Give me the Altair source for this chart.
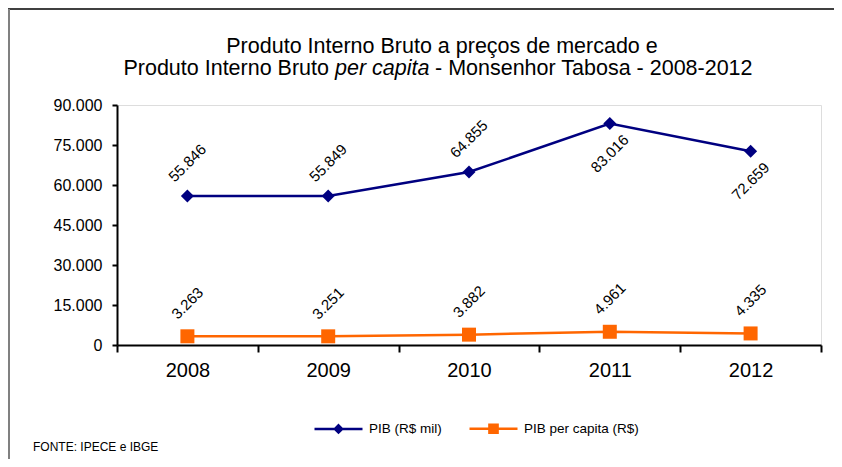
import altair as alt
import pandas as pd

years = ["2008", "2009", "2010", "2011", "2012"]
pib = [55846, 55849, 64855, 83016, 72659]
pib_pc = [3263, 3251, 3882, 4961, 4335]
series_names = ["PIB (R$ mil)", "PIB per capita (R$)"]
colors = ["#000080", "#FF6600"]
y_ticks = [0, 15000, 30000, 45000, 60000, 75000, 90000]

rows = []
for y, v in zip(years, pib):
    rows.append({"ano": y, "valor": v, "serie": series_names[0]})
for y, v in zip(years, pib_pc):
    rows.append({"ano": y, "valor": v, "serie": series_names[1]})
df = pd.DataFrame(rows)

FONT = "Liberation Sans"
W, H = 704, 240

x_enc = alt.X("ano:N", bandPosition=0.5,
              scale=alt.Scale(type="band", paddingInner=0, paddingOuter=0, domain=years),
              axis=alt.Axis(title=None, tickBand="extent", labelFont=FONT, labelFontSize=20,
                            labelColor="black", labelAngle=0, domainColor="black", domainWidth=2,
                            tickColor="black", tickWidth=2, tickSize=7, labelPadding=8, grid=False))
y_enc = alt.Y("valor:Q", scale=alt.Scale(domain=[0, 90000], nice=False),
              axis=alt.Axis(title=None, values=y_ticks, labelFont=FONT, labelFontSize=16,
                            labelColor="black", domainColor="black", domainWidth=2,
                            tickColor="black", tickWidth=2, tickSize=5, labelPadding=10, grid=False,
                            labelExpr="replace(format(datum.value, ','), /,/g, '.')"))

col_scale = alt.Scale(domain=series_names, range=colors)
leg = alt.Legend(title=None, orient="none", legendX=196, legendY=298,
                 direction="horizontal", symbolSize=2304,
                 symbolStrokeWidth=2.5, labelFont=FONT, labelFontSize=13.5,
                 labelColor="black", columnPadding=22, labelOffset=5)
shape_paths = ["M-1,0H1M0,-0.15L0.15,0L0,0.15L-0.15,0Z",
               "M-1,0H1M-0.17,-0.17H0.17V0.17H-0.17Z"]

def col():
    return alt.Color("serie:N", scale=col_scale, legend=leg)

base = alt.Chart(df)
legend_layer = base.mark_point(filled=True, strokeWidth=2.5, size=2304, opacity=1).encode(
    x=x_enc, y=y_enc,
    color=col(),
    stroke=alt.Stroke("serie:N", scale=col_scale, legend=leg),
    shape=alt.Shape("serie:N", scale=alt.Scale(domain=series_names, range=shape_paths), legend=leg),
).transform_filter("false")
lines = base.mark_line(strokeWidth=2.5).encode(x=x_enc, y=y_enc, color=col())
pts_d = base.mark_point(shape="diamond", size=169, filled=True, opacity=1).encode(
    x=x_enc, y=y_enc, color=col()
).transform_filter(alt.datum.serie == series_names[0])
pts_s = base.mark_point(shape="square", size=196, filled=True, opacity=1).encode(
    x=x_enc, y=y_enc, color=col()
).transform_filter(alt.datum.serie == series_names[1])

lab_common = dict(angle=315, font=FONT, fontSize=15, color="black", align="center", baseline="middle")
is_below = "datum.serie == 'PIB (R$ mil)' && indexof(['2011','2012'], datum.ano) >= 0"
labels_above = base.mark_text(yOffset=-33, **lab_common).encode(
    x=x_enc, y=y_enc, text="lbl:N"
).transform_filter("!(" + is_below + ")").transform_calculate(
    lbl="replace(format(datum.valor, ','), /,/g, '.')")
labels_below = base.mark_text(yOffset=30, **lab_common).encode(
    x=x_enc, y=y_enc, text="lbl:N"
).transform_filter(is_below).transform_calculate(
    lbl="replace(format(datum.valor, ','), /,/g, '.')")

one = pd.DataFrame({"k": [0]})
title_font = 21.5
t1 = alt.Chart(one).mark_text(text="Produto Interno Bruto a preços de mercado  e", font=FONT,
                              fontSize=title_font, align="center", baseline="alphabetic", color="black"
                              ).encode(x=alt.value(325), y=alt.value(-52))
t2a = alt.Chart(one).mark_text(text="Produto Interno Bruto", font=FONT, fontSize=title_font,
                               align="right", baseline="alphabetic", color="black"
                               ).encode(x=alt.value(212), y=alt.value(-30))
t2b = alt.Chart(one).mark_text(text="per capita", font=FONT, fontSize=title_font, fontStyle="italic",
                               align="left", baseline="alphabetic", color="black"
                               ).encode(x=alt.value(218), y=alt.value(-30))
t2c = alt.Chart(one).mark_text(text="- Monsenhor Tabosa - 2008-2012", font=FONT, fontSize=title_font,
                               align="left", baseline="alphabetic", color="black"
                               ).encode(x=alt.value(318), y=alt.value(-30))
fonte = alt.Chart(one).mark_text(text="FONTE: IPECE e IBGE", font=FONT, fontSize=12,
                                 align="left", baseline="middle", color="black"
                                 ).encode(x=alt.value(-84), y=alt.value(342))
frame_top = alt.Chart(one).mark_rule(color="black", strokeWidth=1.5).encode(
    x=alt.value(-109), x2=alt.value(720), y=alt.value(-96))
frame_left = alt.Chart(one).mark_rule(color="#808080", strokeWidth=2).encode(
    x=alt.value(-108), y=alt.value(-96), y2=alt.value(400))

chart = alt.layer(legend_layer, lines, pts_d, pts_s, labels_above, labels_below,
                  frame_top, frame_left, t1, t2a, t2b, t2c, fonte).properties(
    width=W, height=H,
    autosize=alt.AutoSizeParams(type="none"),
    padding={"left": 109, "top": 97, "right": 13, "bottom": 114},
).configure_view(stroke=None).configure(background="white")

chart.save("out.html", embed_options={"renderer": "svg", "actions": False})
